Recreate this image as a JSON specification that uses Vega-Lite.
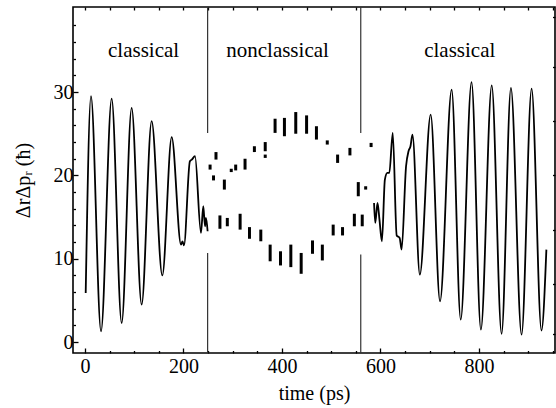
{
  "$schema": "https://vega.github.io/schema/vega-lite/v6.json",
  "width": 482,
  "height": 346,
  "autosize": "none",
  "padding": {"left": 73, "top": 7, "right": 1, "bottom": 55},
  "background": "white",
  "config": {
    "font": "Liberation Serif",
    "view": {"stroke": "black", "strokeWidth": 1.6},
    "axis": {
      "grid": false,
      "domain": false,
      "labelFont": "Liberation Serif",
      "titleFont": "Liberation Serif",
      "labelFontSize": 20,
      "titleFontSize": 20,
      "labelColor": "black",
      "titleColor": "black",
      "titleFontWeight": "normal",
      "tickColor": "black",
      "tickWidth": 1.3
    }
  },
  "datasets": {
    "curve": [
      {"seg": "L", "t": 1.4, "v": 5.9}, {"seg": "L", "t": 12.1, "v": 29.5}, {"seg": "L", "t": 32.5, "v": 1.3},
      {"seg": "L", "t": 54.1, "v": 29.2}, {"seg": "L", "t": 74.4, "v": 2.3}, {"seg": "L", "t": 94.7, "v": 28.1},
      {"seg": "L", "t": 115, "v": 4.5}, {"seg": "L", "t": 135.3, "v": 26.5}, {"seg": "L", "t": 157, "v": 8.0},
      {"seg": "L", "t": 176, "v": 24.6}, {"seg": "L", "t": 195, "v": 11.7}, {"seg": "L", "t": 198, "v": 12.1},
      {"seg": "L", "t": 201, "v": 11.6}, {"seg": "L", "t": 213, "v": 21.7}, {"seg": "L", "t": 217, "v": 21.9},
      {"seg": "L", "t": 223.4, "v": 22.3}, {"seg": "L", "t": 235.5, "v": 13.1}, {"seg": "L", "t": 240.2, "v": 16.3},
      {"seg": "L", "t": 243.7, "v": 13.9}, {"seg": "L", "t": 245.7, "v": 14.9}, {"seg": "L", "t": 249, "v": 13.3},
      {"seg": "R", "t": 587, "v": 16.7}, {"seg": "R", "t": 589.5, "v": 14.3}, {"seg": "R", "t": 594, "v": 16.7},
      {"seg": "R", "t": 598, "v": 14.7}, {"seg": "R", "t": 603, "v": 12.1}, {"seg": "R", "t": 609, "v": 19.5},
      {"seg": "R", "t": 614, "v": 20.3}, {"seg": "R", "t": 618, "v": 20.3}, {"seg": "R", "t": 625, "v": 25.1},
      {"seg": "R", "t": 633, "v": 12.8}, {"seg": "R", "t": 639, "v": 12.5}, {"seg": "R", "t": 643, "v": 11.1},
      {"seg": "R", "t": 652, "v": 21.1}, {"seg": "R", "t": 657, "v": 22.9}, {"seg": "R", "t": 661, "v": 23.5},
      {"seg": "R", "t": 665, "v": 24.9}, {"seg": "R", "t": 680, "v": 8.1}, {"seg": "R", "t": 702, "v": 27.3},
      {"seg": "R", "t": 721, "v": 4.9}, {"seg": "R", "t": 744.6, "v": 30.3}, {"seg": "R", "t": 763, "v": 2.7},
      {"seg": "R", "t": 785, "v": 31.2}, {"seg": "R", "t": 804, "v": 1.5}, {"seg": "R", "t": 826, "v": 30.8},
      {"seg": "R", "t": 846, "v": 1.0}, {"seg": "R", "t": 865, "v": 30.5}, {"seg": "R", "t": 886.6, "v": 0.9},
      {"seg": "R", "t": 907, "v": 30.4}, {"seg": "R", "t": 927, "v": 1.4}, {"seg": "R", "t": 937, "v": 11.1}
    ],
    "dashes": [
      {"t": 254, "lo": 20.7, "hi": 21.3}, {"t": 261, "lo": 19.4, "hi": 20.0}, {"t": 266, "lo": 21.9, "hi": 22.8},
      {"t": 283, "lo": 18.3, "hi": 19.5}, {"t": 297, "lo": 20.4, "hi": 20.8}, {"t": 306, "lo": 20.6, "hi": 21.3},
      {"t": 325, "lo": 20.7, "hi": 22.0}, {"t": 344, "lo": 22.8, "hi": 23.5}, {"t": 366, "lo": 22.9, "hi": 24.0},
      {"t": 366, "lo": 22.1, "hi": 22.5}, {"t": 386, "lo": 25.1, "hi": 26.8}, {"t": 405, "lo": 24.7, "hi": 26.9},
      {"t": 428, "lo": 25.0, "hi": 27.6}, {"t": 450, "lo": 25.0, "hi": 27.2}, {"t": 470, "lo": 24.3, "hi": 25.9},
      {"t": 492, "lo": 23.7, "hi": 24.2}, {"t": 513, "lo": 21.5, "hi": 22.5}, {"t": 538, "lo": 22.4, "hi": 23.3},
      {"t": 555, "lo": 17.5, "hi": 19.2}, {"t": 570, "lo": 18.3, "hi": 18.7}, {"t": 581, "lo": 23.4, "hi": 23.9},
      {"t": 274, "lo": 13.6, "hi": 15.2}, {"t": 289, "lo": 13.9, "hi": 14.9}, {"t": 315, "lo": 13.5, "hi": 15.4},
      {"t": 334, "lo": 12.4, "hi": 13.8}, {"t": 357, "lo": 12.1, "hi": 13.5}, {"t": 376, "lo": 9.7, "hi": 11.7},
      {"t": 397, "lo": 9.2, "hi": 10.9}, {"t": 418, "lo": 9.0, "hi": 11.7}, {"t": 439, "lo": 8.2, "hi": 10.7},
      {"t": 462, "lo": 10.6, "hi": 12.2}, {"t": 482, "lo": 9.8, "hi": 11.7}, {"t": 504, "lo": 12.8, "hi": 14.1},
      {"t": 523, "lo": 12.8, "hi": 13.8}, {"t": 547, "lo": 13.9, "hi": 15.4}, {"t": 563, "lo": 13.9, "hi": 15.3}
    ],
    "vlines": [
      {"t": 249, "lo": 25.1, "hi": 40.2}, {"t": 249, "lo": -1.3, "hi": 10.7},
      {"t": 560, "lo": 25.1, "hi": 40.2}, {"t": 560, "lo": -1.3, "hi": 10.5}
    ],
    "labels": [
      {"t": 119, "v": 34.9, "txt": "classical"},
      {"t": 391, "v": 34.9, "txt": "nonclassical"},
      {"t": 761, "v": 34.9, "txt": "classical"}
    ]
  },
  "resolve": {"axis": {"x": "independent", "y": "independent"}},
  "layer": [
    {
      "data": {"name": "curve"},
      "mark": {"type": "line", "interpolate": "monotone", "color": "black", "strokeWidth": 1.8},
      "encoding": {
        "x": {"field": "t", "type": "quantitative", "scale": {"domain": [-24.4, 954.5], "nice": false, "zero": false},
              "axis": {"orient": "bottom", "values": [0, 200, 400, 600, 800], "tickSize": -5, "labelPadding": 8, "title": "time (ps)", "titlePadding": 7}},
        "y": {"field": "v", "type": "quantitative", "scale": {"domain": [-1.3, 40.2], "nice": false, "zero": false},
              "axis": {"orient": "left", "values": [0, 10, 20, 30], "tickSize": -5, "labelPadding": 5, "title": "ΔrΔpᵣ (ħ)", "titlePadding": 20}},
        "detail": {"field": "seg"}
      }
    },
    {
      "data": {"name": "dashes"},
      "mark": {"type": "rule", "color": "black", "strokeWidth": 3},
      "encoding": {
        "x": {"field": "t", "type": "quantitative", "scale": {"domain": [-24.4, 954.5], "nice": false, "zero": false},
              "axis": {"orient": "bottom", "values": [50, 100, 150, 250, 300, 350, 450, 500, 550, 650, 700, 750, 850, 900, 950], "tickSize": -2.5, "labels": false, "title": null}},
        "y": {"field": "lo", "type": "quantitative", "scale": {"domain": [-1.3, 40.2], "nice": false, "zero": false},
              "axis": {"orient": "left", "values": [2, 4, 6, 8, 12, 14, 16, 18, 22, 24, 26, 28, 32, 34, 36, 38], "tickSize": -2.5, "labels": false, "title": null}},
        "y2": {"field": "hi"}
      }
    },
    {
      "data": {"name": "vlines"},
      "mark": {"type": "rule", "color": "#333333", "strokeWidth": 1.2},
      "encoding": {
        "x": {"field": "t", "type": "quantitative", "scale": {"domain": [-24.4, 954.5], "nice": false, "zero": false},
              "axis": {"orient": "top", "values": [0, 50, 100, 150, 200, 250, 300, 350, 400, 450, 500, 550, 600, 650, 700, 750, 800, 850, 900, 950], "tickSize": -3, "labels": false, "title": null}},
        "y": {"field": "lo", "type": "quantitative", "scale": {"domain": [-1.3, 40.2], "nice": false, "zero": false},
              "axis": {"orient": "right", "values": [1, 7, 13.5, 20, 26.5, 33, 39], "tickSize": -2.5, "labels": false, "title": null}},
        "y2": {"field": "hi"}
      }
    },
    {
      "data": {"name": "labels"},
      "mark": {"type": "text", "font": "Liberation Serif", "fontSize": 21, "color": "black", "align": "center", "baseline": "middle"},
      "encoding": {
        "x": {"field": "t", "type": "quantitative", "scale": {"domain": [-24.4, 954.5], "nice": false, "zero": false}, "axis": null},
        "y": {"field": "v", "type": "quantitative", "scale": {"domain": [-1.3, 40.2], "nice": false, "zero": false}, "axis": null},
        "text": {"field": "txt"}
      }
    }
  ]
}
